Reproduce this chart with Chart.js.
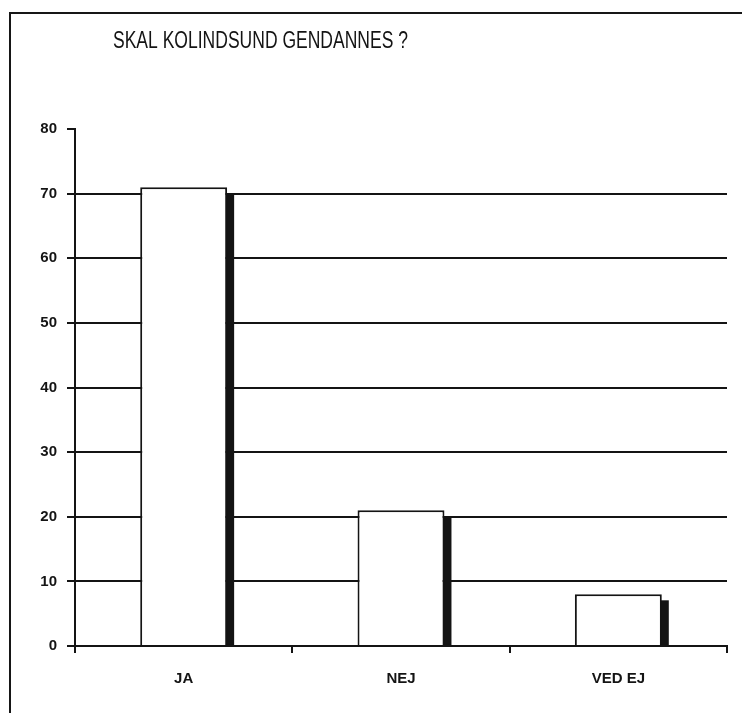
<!DOCTYPE html>
<html>
<head>
<meta charset="utf-8">
<script src="https://cdn.jsdelivr.net/npm/chart.js@4/dist/chart.umd.min.js"></script>
<style>
  html, body { margin: 0; padding: 0; background: #fff; overflow: hidden; }
  #wrap { position: relative; width: 742px; height: 713px; }
  #frame { position: absolute; left: 9px; top: 12px; width: 733px; height: 701px;
           border-left: 2px solid #161616; border-top: 2px solid #161616; box-sizing: border-box; pointer-events: none; }
  canvas { position: absolute; left: 0; top: 0; }
</style>
</head>
<body>
<div id="wrap">
  <canvas id="c" width="742" height="713"></canvas>
  <div id="frame"></div>
</div>
<script>
const titleText = "SKAL KOLINDSUND GENDANNES ?";
const categories = ["JA", "NEJ", "VED EJ"];
const values = [71, 21, 8];
const yMin = 0, yMax = 80, yStep = 10;

const INK = "#141414";

const titlePlugin = {
  id: "condensedTitle",
  afterDraw(chart) {
    const ctx = chart.ctx;
    ctx.save();
    ctx.font = "23px 'Liberation Sans', Arial, sans-serif";
    ctx.fillStyle = INK;
    ctx.textBaseline = "alphabetic";
    const w = ctx.measureText(titleText).width;
    const target = 295;
    const sx = target / w;
    ctx.translate(113, 48);
    ctx.scale(sx, 1);
    ctx.fillText(titleText, 0, 0);
    ctx.restore();
  }
};

const shadowPlugin = {
  id: "barShadow",
  beforeDatasetsDraw(chart) {
    const ctx = chart.ctx;
    const meta = chart.getDatasetMeta(0);
    ctx.save();
    ctx.fillStyle = INK;
    meta.data.forEach(bar => {
      const p = bar.getProps(["x", "y", "base", "width"], true);
      const right = p.x + p.width / 2;
      ctx.fillRect(right - 1, p.y + 6, 8, p.base - (p.y + 6));
    });
    ctx.restore();
  }
};

new Chart(document.getElementById("c"), {
  type: "bar",
  data: {
    labels: categories,
    datasets: [{
      data: values,
      backgroundColor: "#ffffff",
      borderColor: INK,
      borderWidth: 2,
      borderSkipped: "bottom",
      categoryPercentage: 0.8,
      barPercentage: 0.5
    }]
  },
  options: {
    responsive: false,
    animation: false,
    devicePixelRatio: 1,
    layout: { padding: { left: 0, right: 15, top: 129, bottom: 7 } },
    plugins: { legend: { display: false }, title: { display: false }, tooltip: { enabled: false } },
    scales: {
      x: {
        grid: { display: true, drawOnChartArea: false, offset: true, color: INK, lineWidth: 2, tickLength: 7 },
        border: { display: true, color: INK, width: 2 },
        ticks: { color: INK, font: { family: "Arial, 'Liberation Sans', sans-serif", size: 15, weight: "bold" }, padding: 17 },
        afterFit(scale) { scale.height = 60; }
      },
      y: {
        min: yMin, max: yMax,
        grid: {
          color: c => (c.tick && c.tick.value === yMax) ? "rgba(0,0,0,0)" : INK,
          tickColor: INK,
          lineWidth: 2,
          tickLength: 8
        },
        border: { display: true, color: INK, width: 2 },
        ticks: { stepSize: yStep, color: INK, font: { family: "Arial, 'Liberation Sans', sans-serif", size: 15, weight: "bold" }, padding: 10 },
        afterFit(scale) { scale.width = 75; }
      }
    }
  },
  plugins: [shadowPlugin, titlePlugin]
});
</script>
</body>
</html>
